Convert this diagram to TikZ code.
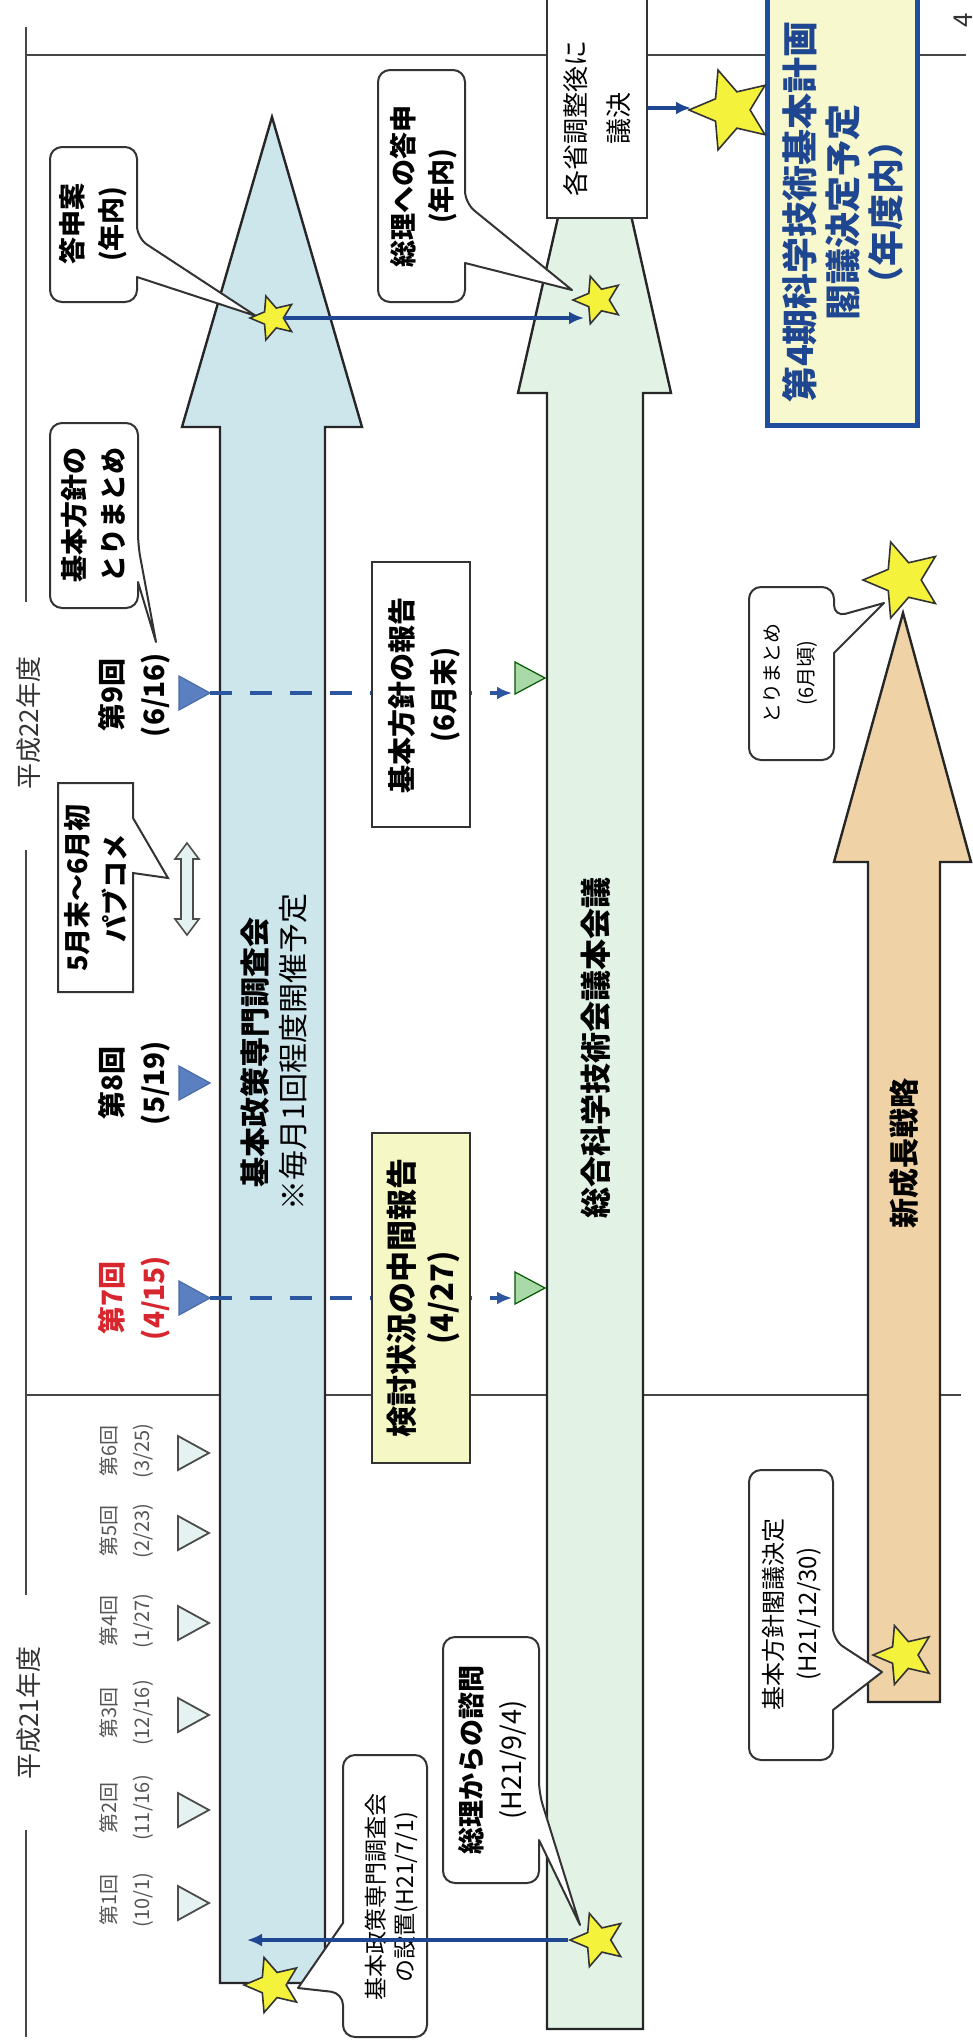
\documentclass[tikz,border=0pt]{standalone}
\usepackage{fontspec}
\setmainfont{Noto Sans CJK JP}
\usetikzlibrary{shapes.geometric,arrows.meta}
\definecolor{arrowblue}{HTML}{CDE6EC}
\definecolor{arrowgreen}{HTML}{E2F3E6}
\definecolor{arrowtan}{HTML}{EFD2A6}
\definecolor{staryellow}{HTML}{F5F23C}
\definecolor{darkblue}{HTML}{1F4691}
\definecolor{dashblue}{HTML}{2C56A0}
\definecolor{yellowbox}{HTML}{F5F7C4}
\definecolor{bigboxfill}{HTML}{F8F8CE}
\definecolor{bigboxborder}{HTML}{1F4E9E}
\definecolor{meetblue}{HTML}{5B80C2}
\definecolor{greentri}{HTML}{A9D9A6}
\definecolor{redtxt}{HTML}{D8262E}
\definecolor{graytxt}{HTML}{555555}
\definecolor{palecyan}{HTML}{E4F3F1}
\newcommand{\meettri}[4]{\coordinate (#1) at (#2,#3); \draw[#4] (#1) -- ++(-31,-17) -- ++(0,34) -- cycle;}
\begin{document}
\begin{tikzpicture}[x=1pt,y=-1pt,
  txt/.style={rotate=90,align=center,inner sep=0pt},
  frame/.style={draw=black!72,line width=2.5pt},
  outline/.style={draw=black!85,line width=2.4pt,line join=miter},
  callout/.style={draw=black!80,line width=2pt,fill=white,line join=round},
  boxn/.style={draw=black!80,line width=2pt,inner sep=0pt},
  starn/.style={star,star points=5,star point ratio=2.2,draw=black!80,line width=1.6pt,fill=staryellow,inner sep=0pt,rotate=90},
  conn/.style={draw=darkblue,line width=3.5pt,-{Latex[length=15pt,width=13pt]}},
  dashconn/.style={draw=dashblue,line width=4pt,dash pattern=on 22pt off 18pt,-{Latex[length=15pt,width=13pt]}},
  h21tri/.style={draw=black!70,line width=1.8pt,fill=palecyan,line join=miter},
  h22tri/.style={draw=darkblue!80,line width=1.2pt,fill=meetblue,line join=miter},
  grtri/.style={draw=green!35!black,line width=1.2pt,fill=greentri,line join=miter},
  bigb/.style={font=\fontsize{28}{42}\selectfont\bfseries},
  small/.style={font=\fontsize{20}{33}\selectfont,text=graytxt},
]
\useasboundingbox (0,0) rectangle (972,2043);
\fill[white] (0,0) rectangle (972,2043);

% frame lines
\draw[frame] (26,27) -- (26,602);
\draw[frame] (26,850) -- (26,1595);
\draw[frame] (26,1830) -- (26,2037);
\draw[frame] (26,55) -- (966,55);
\draw[frame] (26,1395) -- (961,1395);
\node[txt,font=\fontsize{26}{30}\selectfont,text=black!80] (fy22) at (29,723) {平成22年度};
\node[txt,font=\fontsize{26}{30}\selectfont,text=black!80] (fy21) at (29,1713) {平成21年度};
\node[txt,font=\fontsize{26}{30}\selectfont,text=black!80] (pg) at (963,20) {4};

% big arrows
\draw[outline,fill=arrowblue] (220,1983) -- (220,427) -- (182,427) -- (272,117) -- (362,427) -- (325,427) -- (325,1983) -- cycle;
\draw[outline,fill=arrowgreen] (547,2029) -- (547,393) -- (518,393) -- (595,55) -- (671,393) -- (643,393) -- (643,2029) -- cycle;
\draw[outline,fill=arrowtan] (868,1702) -- (868,862) -- (834,862) -- (903,613) -- (971,862) -- (940,862) -- (940,1702) -- cycle;

\node[txt,font=\fontsize{30}{38}\selectfont] (bluet) at (274,1052) {{\bfseries 基本政策専門調査会}\\※毎月1回程度開催予定};
\node[txt,font=\fontsize{31}{36}\selectfont\bfseries] (greent) at (596,1048) {総合科学技術会議本会議};
\node[txt,font=\fontsize{30}{36}\selectfont\bfseries] (tant) at (904,1153) {新成長戦略};

% meeting triangles H21
\meettri{m1}{209}{1903}{h21tri}
\meettri{m2}{209}{1810}{h21tri}
\meettri{m3}{209}{1715}{h21tri}
\meettri{m4}{209}{1623}{h21tri}
\meettri{m5}{209}{1533}{h21tri}
\meettri{m6}{209}{1453}{h21tri}
\node[txt,small] (l1) at (127,1900) {第1回\\(10/1)};
\node[txt,small] (l2) at (127,1808) {第2回\\(11/16)};
\node[txt,small] (l3) at (127,1713) {第3回\\(12/16)};
\node[txt,small] (l4) at (127,1621) {第4回\\(1/27)};
\node[txt,small] (l5) at (127,1531) {第5回\\(2/23)};
\node[txt,small] (l6) at (127,1451) {第6回\\(3/25)};

% meeting triangles H22
\meettri{m7}{210}{1298}{h22tri}
\meettri{m8}{210}{1083}{h22tri}
\meettri{m9}{210}{693}{h22tri}
\node[txt,bigb,text=redtxt] (l7) at (134,1298) {第7回\\(4/15)};
\node[txt,bigb] (l8) at (134,1083) {第8回\\(5/19)};
\node[txt,bigb] (l9) at (134,695) {第9回\\(6/16)};

% green triangles on the council arrow
\coordinate (g7) at (545,1288);
\draw[grtri] (g7) -- ++(-30,-16) -- ++(0,32) -- cycle;
\coordinate (g9) at (545,678);
\draw[grtri] (g9) -- ++(-30,-16) -- ++(0,32) -- cycle;
\coordinate (g7in) at (512,1298);
\coordinate (g9in) at (512,693);

% dashed report lines
\draw[dashconn] (m7) -- (g7in);
\draw[dashconn] (m9) -- (g9in);

% report boxes
\node[boxn,fill=white,minimum width=98,minimum height=265] (hokoku) at (421,694.5) {};
\node[txt,bigb] (hokokut) at (424,695) {基本方針の報告\\(6月末)};
\node[boxn,fill=yellowbox,minimum width=98,minimum height=330] (chukan) at (421,1298) {};
\node[txt,font=\fontsize{31}{40}\selectfont\bfseries] (chukant) at (423,1298) {検討状況の中間報告\\(4/27)};

% top boxes
\node[boxn,fill=white,minimum width=100,minimum height=227] (kakusho) at (597,104) {};
\node[txt,font=\fontsize{26}{43}\selectfont] (kakushot) at (597,118) {各省調整後に\\議決};
\node[draw=bigboxborder,line width=5pt,fill=bigboxfill,inner sep=0pt,minimum width=150,minimum height=432] (plan) at (842.5,209) {};
\node[txt,font=\fontsize{36}{43}\selectfont\bfseries,text=darkblue] (plant) at (843,212) {第4期科学技術基本計画\\閣議決定予定\\（年度内）};

% callouts
\draw[callout] (93,147) [rounded corners=12] -- (137,147) -- (137,238) [sharp corners] -- (256,316) -- (137,277) [rounded corners=12] -- (137,302) -- (50,302) -- (50,147) -- cycle;
\node[txt,font=\fontsize{27}{39}\selectfont\bfseries] (toshinan) at (93,224) {答申案\\(年内)};

\draw[callout] (421,70) [rounded corners=12] -- (465,70) -- (465,203) [sharp corners] -- (572,290) -- (465,263) [rounded corners=12] -- (465,302) -- (378,302) -- (378,70) -- cycle;
\node[txt,font=\fontsize{27}{38}\selectfont\bfseries] (toshin) at (424,186) {総理への答申\\(年内)};

\draw[callout] (94,423) [rounded corners=12] -- (138,423) -- (138,545) [sharp corners] -- (156,642) -- (138,582) [rounded corners=12] -- (138,608) -- (50,608) -- (50,423) -- cycle;
\node[txt,font=\fontsize{27}{39}\selectfont\bfseries] (matome) at (93,515) {基本方針の\\とりまとめ};

\draw[callout,line join=miter] (58,783) -- (133,783) -- (133,818) -- (168,878) -- (133,873) -- (133,992) -- (58,992) -- cycle;
\node[txt,font=\fontsize{27}{38}\selectfont\bfseries] (pubcom) at (96,888) {5月末～6月初\\パブコメ};
\draw[draw=black!70,line width=1.6pt,fill=palecyan,line join=miter] (187,843) -- (199,859) -- (193,859) -- (193,919) -- (199,919) -- (187,935) -- (175,919) -- (181,919) -- (181,859) -- (175,859) -- cycle;

\draw[callout] (491,1637) [rounded corners=12] -- (539,1637) -- (539,1793) [sharp corners] -- (580,1925) -- (539,1840) [rounded corners=12] -- (539,1883) -- (443,1883) -- (443,1637) -- cycle;
\node[txt,font=\fontsize{27}{40}\selectfont] (shimon) at (493,1760) {{\bfseries 総理からの諮問}\\(H21/9/4)};

\draw[callout] (385,1755) [rounded corners=12] -- (427,1755) -- (427,2037) -- (343,2037) -- (343,1993) [sharp corners] -- (298,1988) -- (343,1923) [rounded corners=12] -- (343,1755) -- cycle;
\node[txt,font=\fontsize{23}{29}\selectfont] (setchi) at (392,1897) {基本政策専門調査会\\の設置(H21/7/1)};

\draw[callout] (791,587) [rounded corners=12] -- (834,587) -- (834,617) [sharp corners] -- (884,603) -- (834,653) [rounded corners=12] -- (834,760) -- (749,760) -- (749,587) -- cycle;
\node[txt,font=\fontsize{20}{34}\selectfont] (matome2) at (791,673) {とりまとめ\\(6月頃)};

\draw[callout] (791,1470) [rounded corners=12] -- (833,1470) -- (833,1640) [sharp corners] -- (882,1672) -- (833,1710) [rounded corners=12] -- (833,1760) -- (749,1760) -- (749,1470) -- cycle;
\node[txt,font=\fontsize{24}{34}\selectfont] (kakugi) at (792,1614) {基本方針閣議決定\\(H21/12/30)};

% stars
\node[starn,minimum size=46] (sA) at (273,318) {};
\node[starn,minimum size=50] (sB) at (598,300) {};
\node[starn,minimum size=84] (sC) at (731,110) {};
\node[starn,minimum size=80] (sD) at (903,580) {};
\node[starn,minimum size=62] (sE) at (904,1655) {};
\node[starn,minimum size=56] (sF) at (598,1940) {};
\node[starn,minimum size=58] (sG) at (273,1985) {};

% connectors
\coordinate (bIn) at (584,318);
\draw[conn] (sA) -- (bIn);
\coordinate (cIn) at (691,108);
\draw[conn] (kakusho.east |- cIn) -- (cIn);
\coordinate (fOut) at (247,1940);
\draw[conn] (sF) -- (fOut);
\end{tikzpicture}
\end{document}
